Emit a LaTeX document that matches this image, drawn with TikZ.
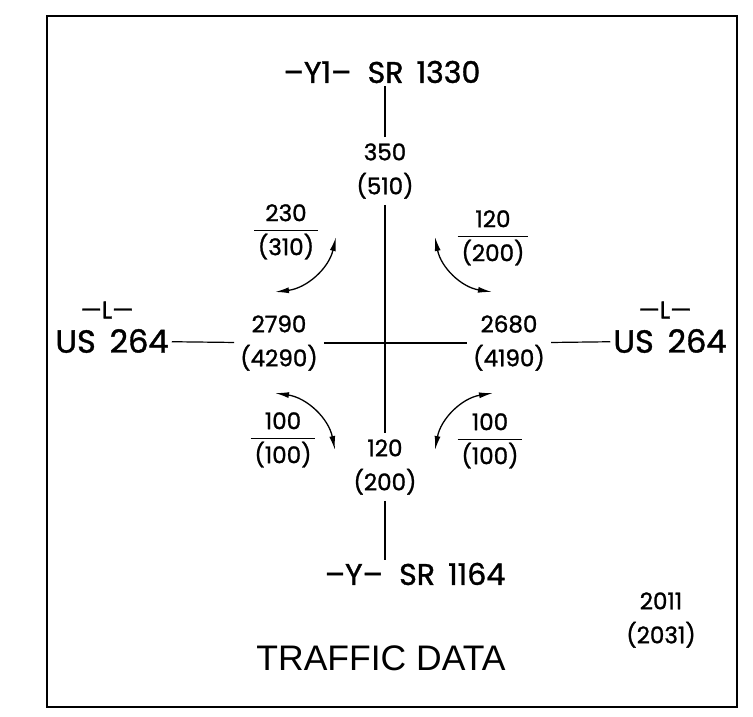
\documentclass[tikz,border=0pt]{standalone}
\usepackage{fontspec}
\setmainfont{Poppins}[FakeBold=1.2]
\newfontfamily\captionfont{Liberation Sans}
\usetikzlibrary{arrows.meta}
\setlength{\arrayrulewidth}{1.2pt}
\newcommand{\turnvol}[2]{\begin{tabular}{@{\,}c@{\,}}#1\\[1pt]\hline\rule{0pt}{24pt}#2\end{tabular}}
\tikzset{
  road/.style={font=\fontsize{30}{30}\selectfont,inner sep=3pt},
  route/.style={font=\fontsize{32}{34}\selectfont,inner sep=3pt},
  tag/.style={font=\fontsize{24}{24}\selectfont,inner sep=1pt},
  vol/.style={align=center,font=\fontsize{23}{34}\selectfont,inner sep=6pt},
  turn/.style={font=\fontsize{23}{26}\selectfont,inner sep=0pt},
  leg/.style={line width=1.2pt},
  mov/.style={{Latex[length=14pt,width=6pt]}-{Latex[length=14pt,width=6pt]},line width=1.3pt}
}

\begin{document}
\begin{tikzpicture}[x=1pt,y=-1pt]
\useasboundingbox (0,0) rectangle (753,716);
\draw[line width=2pt] (47,16) rectangle (737,707);

% road names
\node[road] (north) at (382,72) {–Y1–\; SR\, 1330};
\node[road] (south) at (415,574) {–Y–\; SR\, 1164};
\node[route] (west) at (112,341) {US\, 264};
\node[tag] (westtag) at (107,310) {—L—};
\node[route] (east) at (670,341) {US\, 264};
\node[tag] (easttag) at (665,310) {—L—};

% approach volumes
\node[vol] (nvol) at (385,171) {350\\(510)};
\node[vol] (svol) at (385,467) {120\\(200)};
\node[vol] (wvol) at (279,343) {2790\\(4290)};
\node[vol] (evol) at (509,343) {2680\\(4190)};

\draw[leg] (nvol.north) -- (nvol.north |- north.south);
\draw[leg] (nvol) -- (svol);
\draw[leg] (svol.south) -- (svol.south |- south.north);
\draw[leg] (west) -- (wvol);
\draw[leg] (wvol) -- (evol);
\draw[leg] (evol) -- (east);

% turning movements
\coordinate (nwa) at (275,292);
\coordinate (nwb) at (336,237);
\coordinate (nea) at (435,237);
\coordinate (neb) at (492,292);
\coordinate (swa) at (275,393);
\coordinate (swb) at (335,450);
\coordinate (sea) at (493,393);
\coordinate (seb) at (435,450);

\draw[mov] (nwa) to[bend right=35] (nwb);
\draw[mov] (nea) to[bend right=35] (neb);
\draw[mov] (swa) to[bend left=35] (swb);
\draw[mov] (sea) to[bend right=35] (seb);

\node[turn] (nwvol) at (286,233) {\turnvol{230}{(310)}};
\node[turn] (nevol) at (493,239) {\turnvol{120}{(200)}};
\node[turn] (swvol) at (283,441) {\turnvol{100}{(100)}};
\node[turn] (sevol) at (490,442) {\turnvol{100}{(100)}};

% years and title
\node[vol] (years) at (661,620) {2011\\(2031)};
\node[font=\captionfont\fontsize{35.5}{36}\selectfont] (title) at (381,658) {TRAFFIC DATA};
\end{tikzpicture}
\end{document}
